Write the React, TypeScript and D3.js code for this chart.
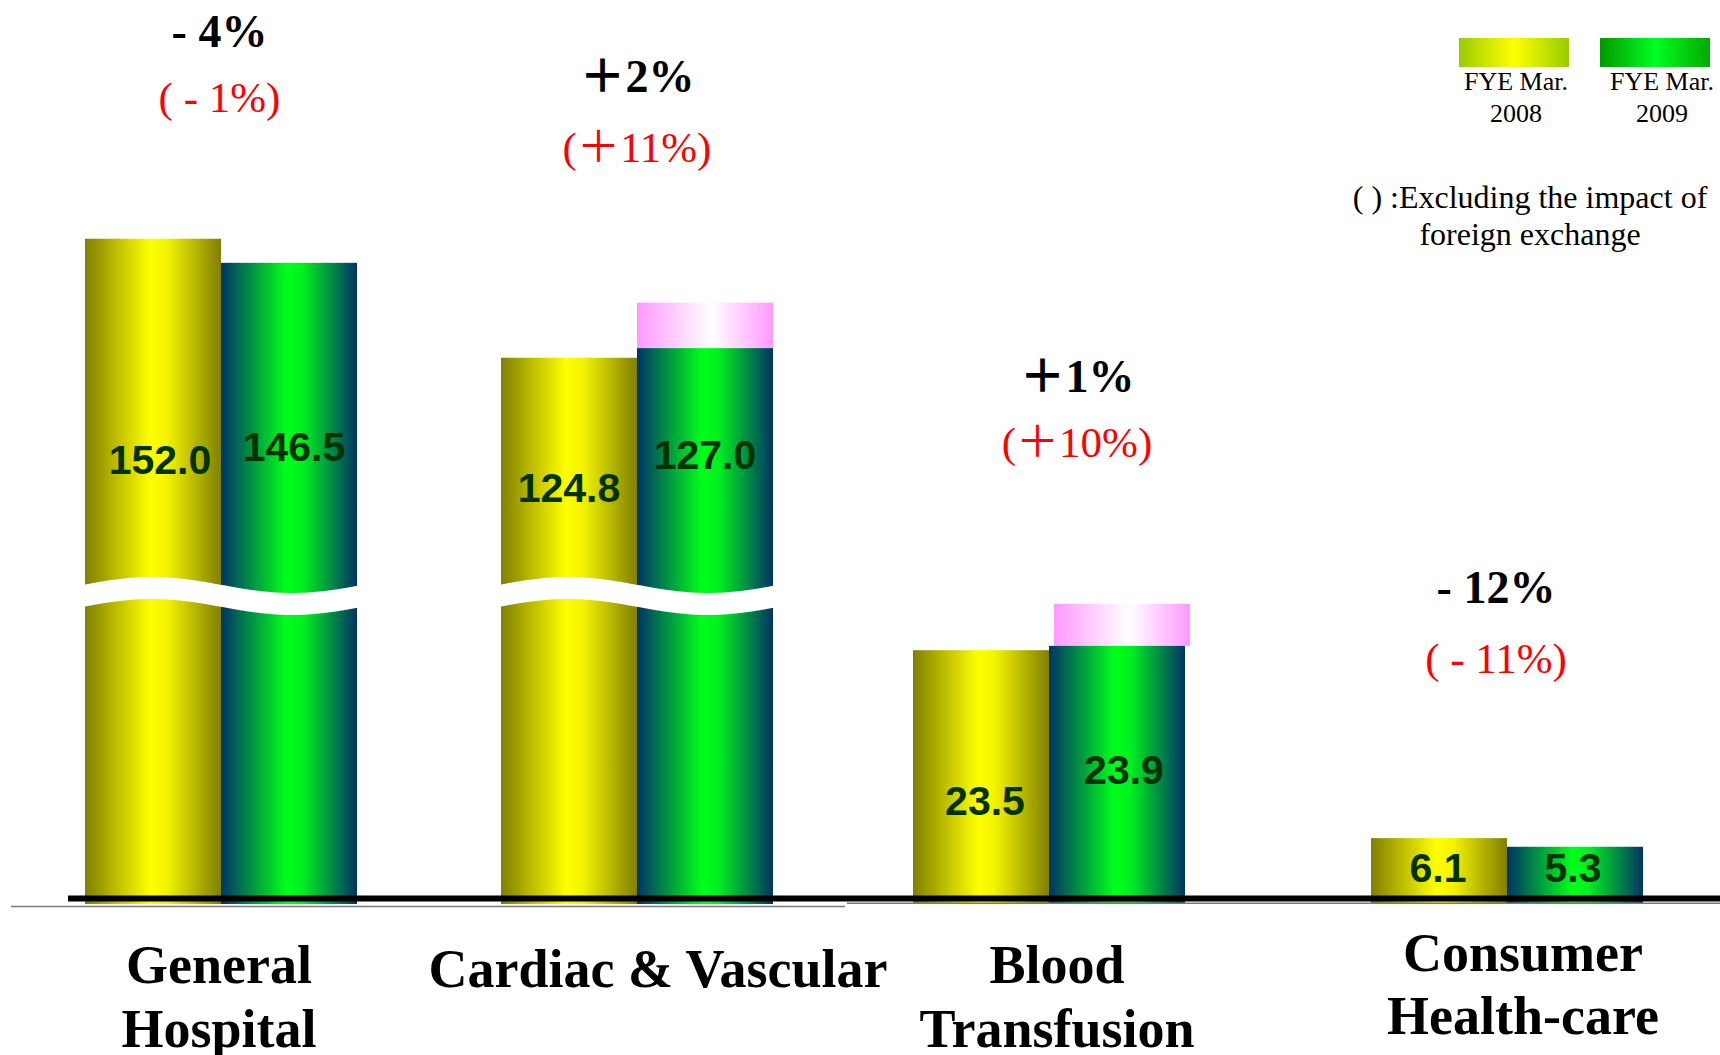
import React from 'react';
import * as d3 from 'd3';

// ---------- data ----------
const categories = ['General Hospital', 'Cardiac & Vascular', 'Blood Transfusion', 'Consumer Health-care'];
const categoryLines = [['General', 'Hospital'], ['Cardiac & Vascular'], ['Blood', 'Transfusion'], ['Consumer', 'Health-care']];
const seriesNames = ['FYE Mar. 2008', 'FYE Mar. 2009'];
const legendLines = [['FYE Mar.', '2008'], ['FYE Mar.', '2009']];
const fy2008 = [152.0, 124.8, 23.5, 6.1];
const fy2009 = [146.5, 127.0, 23.9, 5.3];
const fy2009ExFx: (number | null)[] = [null, 137.4, 27.8, null];
const changeYoY = ['- 4%', '＋2%', '＋1%', '- 12%'];
const changeExFx = ['( - 1%)', '(＋11%)', '(＋10%)', '( - 11%)'];
const noteLines = ['( ) :Excluding the impact of', 'foreign exchange'];

// ---------- layout ----------
const W = 1720;
const H = 1055;
const BREAK_LO = 30;
const BREAK_HI = 74;
const BREAK_Y = 596;
const SERIF = "'Liberation Serif', 'Times New Roman', 'Noto Sans CJK JP', serif";
const SANS = "'Liberation Sans', Arial, sans-serif";

// group position nudges (the slide's groups are not evenly spaced)
const GROUP_DX = [8, -3, -18, 13];
// value label nudges [dx, dy from bar top]
const VALUE_LABEL_POS = [
  [[7, 235], [5, 198]],
  [[0, 144], [0, 121]],
  [[4, 165], [7, 138]],
  [[-1, 44], [-2, 35]],
];
const PCT_GAP = [192, 211, 212, 235];
const PCT_RED_DY = [65, 70, 65, 70];
const PCT_DX = [-1.5, 0, 28, -11];
const CAT_DX = [-2, 21, 8, 16];
const CAT_Y = [983, 987, 983, 971];
const CAT_LINE_H = [64, 64, 64, 63];

const xp = d3.scalePoint<string>().domain(categories).range([213, 1494]);
const x = (c: string) => (xp(c) as number) + GROUP_DX[categories.indexOf(c)];
const inner = d3.scaleBand<string>().domain(seriesNames).range([-136, 136]);
const y = d3.scaleLinear().domain([0, BREAK_LO, BREAK_HI, 160]).range([904, 580, 580, 203.75]);

function wavePath(x0: number, x1: number): string {
  const xs = d3.range(x0, x1, 4);
  xs.push(x1);
  const yc = (xx: number) => BREAK_Y - 8 * Math.cos((2 * Math.PI * (xx - (x0 + 68))) / 280);
  const top = xs.map((xx) => [xx, yc(xx) - 11] as [number, number]);
  const bottom = xs
    .slice()
    .reverse()
    .map((xx) => [xx, yc(xx) + 11] as [number, number]);
  return (d3.line()([...top, ...bottom]) || '') + 'Z';
}

export default function App() {
  const series = [fy2008, fy2009];
  const fills = ['url(#gYellow)', 'url(#gGreen)'];
  const bw = inner.bandwidth();

  return (
    <svg
      width={W}
      height={H}
      viewBox={`0 0 ${W} ${H}`}
      style={{ position: 'absolute', left: 0, top: 0, background: '#fff' }}
    >
      <defs>
        <linearGradient id="gYellow" x1="0" x2="1" y1="0" y2="0">
          <stop offset="0" stopColor="#808000" />
          <stop offset="0.48" stopColor="#ffff00" />
          <stop offset="0.6" stopColor="#f4f400" />
          <stop offset="1" stopColor="#808000" />
        </linearGradient>
        <linearGradient id="gGreen" x1="0" x2="1" y1="0" y2="0">
          <stop offset="0" stopColor="#003366" />
          <stop offset="0.48" stopColor="#00ff1a" />
          <stop offset="0.6" stopColor="#00f020" />
          <stop offset="1" stopColor="#003366" />
        </linearGradient>
        <linearGradient id="gPink" x1="0" x2="1" y1="0" y2="0">
          <stop offset="0" stopColor="#ff99ff" />
          <stop offset="0.55" stopColor="#ffffff" />
          <stop offset="1" stopColor="#ff99ff" />
        </linearGradient>
        <linearGradient id="gLegY" x1="0" x2="1" y1="0" y2="0">
          <stop offset="0" stopColor="#99cc00" />
          <stop offset="0.5" stopColor="#ffff00" />
          <stop offset="1" stopColor="#99cc00" />
        </linearGradient>
        <linearGradient id="gLegG" x1="0" x2="1" y1="0" y2="0">
          <stop offset="0" stopColor="#009900" />
          <stop offset="0.5" stopColor="#00ff22" />
          <stop offset="1" stopColor="#00aa00" />
        </linearGradient>
      </defs>

      {/* bars */}
      {categories.map((c, i) => {
        const cx = x(c);
        const left = cx + (inner(seriesNames[0]) as number);
        const right = cx + (inner(seriesNames[1]) as number) + bw;
        const broken = Math.max(fy2008[i], fy2009[i]) > BREAK_HI;
        const ex = fy2009ExFx[i];
        return (
          <g key={c}>
            {ex != null && (
              <rect
                x={cx + (inner(seriesNames[1]) as number) + (broken ? 0 : 5)}
                y={y(ex)}
                width={bw}
                height={y(fy2009[i]) - y(ex)}
                fill="url(#gPink)"
              />
            )}
            {series.map((s, j) => (
              <rect
                key={j}
                x={cx + (inner(seriesNames[j]) as number)}
                y={y(s[i])}
                width={bw}
                height={y(0) - y(s[i])}
                fill={fills[j]}
              />
            ))}
            {broken && <path d={wavePath(left - 1, right + 1)} fill="#fff" />}
            {series.map((s, j) => (
              <text
                key={'v' + j}
                x={cx + (inner(seriesNames[j]) as number) + bw / 2 + VALUE_LABEL_POS[i][j][0]}
                y={y(s[i]) + VALUE_LABEL_POS[i][j][1]}
                textAnchor="middle"
                fontFamily={SANS}
                fontWeight="bold"
                fontSize={41}
                fill="#003300"
              >
                {s[i].toFixed(1)}
              </text>
            ))}
          </g>
        );
      })}

      {/* baseline lines */}
      <line x1={11} x2={845} y1={906.5} y2={906.5} stroke="#7a7a7a" strokeWidth={1.6} />
      <line x1={847} x2={W} y1={903.3} y2={903.3} stroke="#7a7a7a" strokeWidth={1.6} />
      <line x1={68} x2={W} y1={898.5} y2={898.5} stroke="#000" strokeWidth={6} />

      {/* percent labels */}
      {categories.map((c, i) => {
        const cx = x(c) + PCT_DX[i];
        const ex = fy2009ExFx[i];
        const top = Math.min(y(fy2008[i]), y(fy2009[i]), ex != null ? y(ex) : Infinity);
        const by = top - PCT_GAP[i];
        return (
          <g key={'p' + c}>
            <text x={cx} y={by} textAnchor="middle" fontFamily={SERIF} fontWeight="bold" fontSize={46} fill="#000">
              {changeYoY[i]}
            </text>
            <text x={cx} y={by + PCT_RED_DY[i]} textAnchor="middle" fontFamily={SERIF} fontSize={43} fill="#ff0000">
              {changeExFx[i]}
            </text>
          </g>
        );
      })}

      {/* category labels */}
      {categories.map((c, i) => (
        <text
          key={'c' + c}
          x={x(c) + CAT_DX[i]}
          y={CAT_Y[i]}
          textAnchor="middle"
          fontFamily={SERIF}
          fontWeight="bold"
          fontSize={54}
          fill="#000"
        >
          {categoryLines[i].map((ln, k) => (
            <tspan key={k} x={x(c) + CAT_DX[i]} dy={k === 0 ? 0 : CAT_LINE_H[i]}>
              {ln}
            </tspan>
          ))}
        </text>
      ))}

      {/* legend */}
      {seriesNames.map((s, j) => {
        const lx = 1459 + j * 141;
        return (
          <g key={'l' + s}>
            <rect x={lx} y={38} width={110} height={29} fill={j === 0 ? 'url(#gLegY)' : 'url(#gLegG)'} />
            <text textAnchor="middle" fontFamily={SERIF} fontSize={26} fill="#000">
              <tspan x={lx + 57 + j * 5} y={90}>{legendLines[j][0]}</tspan>
              <tspan x={lx + 57 + j * 5} y={122}>{legendLines[j][1]}</tspan>
            </text>
          </g>
        );
      })}
      <text textAnchor="middle" fontFamily={SERIF} fontSize={32} fill="#000">
        <tspan x={1530} y={208}>{noteLines[0]}</tspan>
        <tspan x={1530} y={245}>{noteLines[1]}</tspan>
      </text>
    </svg>
  );
}
